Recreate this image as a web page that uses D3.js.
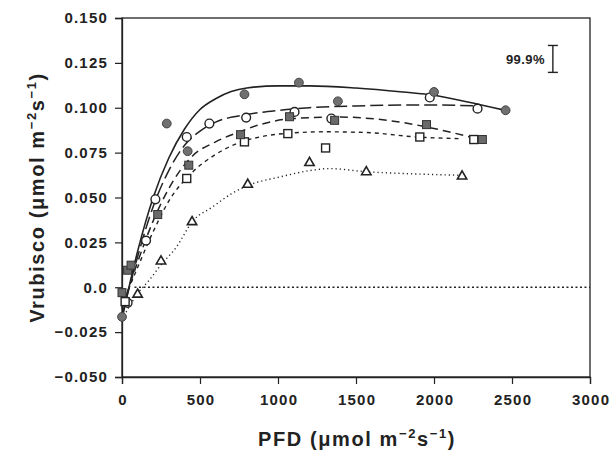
<!DOCTYPE html>
<html>
<head>
<meta charset="utf-8">
<script src="https://d3js.org/d3.v7.min.js"></script>
<style>
  body { margin: 0; background: #fff; }
  svg { display: block; }
  text { font-family: "Liberation Sans", Arial, sans-serif; fill: #222; }
</style>
</head>
<body>
<div id="chart"></div>
<script>
// x/y ticks
const xTicks = [0, 500, 1000, 1500, 2000, 2500, 3000];
const yTicks = [-0.05, -0.025, 0, 0.025, 0.05, 0.075, 0.1, 0.125, 0.15];
const yTickLabels = ["\u22120.050", "\u22120.025", "0.0", "0.025", "0.050", "0.075", "0.100", "0.125", "0.150"];

// measured points [PFD, Vrubisco]
const filledCircles = [[0, -0.0165], [287, 0.0912], [421, 0.0758], [785, 0.1075], [1134, 0.114], [1384, 0.1036], [2000, 0.1088], [2459, 0.0986]];
const openCircles = [[36, -0.0087], [154, 0.026], [214, 0.049], [415, 0.0837], [560, 0.0912], [796, 0.0945], [1106, 0.0977], [1342, 0.094], [1973, 0.1057], [2279, 0.0995]];
const filledSquares = [[0, -0.003], [36, 0.0095], [58, 0.0123], [229, 0.0405], [428, 0.068], [760, 0.085], [1074, 0.095], [1363, 0.093], [1952, 0.0906], [2310, 0.0823]];
const openSquares = [[20, -0.008], [415, 0.0606], [785, 0.081], [1063, 0.0856], [1305, 0.0776], [1909, 0.0837], [2255, 0.0823]];
const triangles = [[100, -0.004], [250, 0.0145], [449, 0.0364], [806, 0.0572], [1202, 0.0693], [1566, 0.0642], [2180, 0.0618]];

// fitted curves
const fitSolid = [[0, -0.018], [50, 0.002], [100, 0.02], [150, 0.036], [200, 0.05], [300, 0.072], [400, 0.088], [500, 0.099], [600, 0.105], [700, 0.109], [800, 0.111], [1000, 0.1122], [1200, 0.1122], [1500, 0.111], [1800, 0.1088], [2000, 0.107], [2200, 0.1035], [2460, 0.0985]];
const fitLongDash = [[0, -0.016], [100, 0.017], [200, 0.045], [300, 0.065], [400, 0.079], [500, 0.087], [600, 0.092], [800, 0.0962], [1000, 0.0985], [1200, 0.1], [1500, 0.101], [1800, 0.1015], [2000, 0.1015], [2300, 0.101]];
const fitMidDash = [[0, -0.012], [100, 0.014], [200, 0.037], [300, 0.055], [450, 0.073], [600, 0.081], [750, 0.0865], [900, 0.091], [1100, 0.094], [1400, 0.0948], [1700, 0.093], [1930, 0.0897], [2100, 0.0865], [2230, 0.0837]];
const fitShortDash = [[0, -0.01], [100, 0.011], [200, 0.031], [300, 0.048], [450, 0.064], [600, 0.074], [750, 0.0805], [900, 0.084], [1100, 0.086], [1300, 0.0866], [1566, 0.0862], [1890, 0.0837], [2170, 0.0828]];
const fitDotted = [[0, -0.018], [100, -0.0035], [175, 0.004], [250, 0.0125], [350, 0.0225], [450, 0.0365], [580, 0.0447], [700, 0.052], [810, 0.0568], [1010, 0.0614], [1220, 0.0652], [1330, 0.0661], [1560, 0.0644], [1820, 0.0633], [2170, 0.0624]];
const zeroLine = [[80, 0], [3000, 0]];

// error bar (99.9% LSD)
const errX = 2762, errLow = 0.1197, errHigh = 0.1347;

const width = 616, height = 454;
const margin = { top: 18, right: 26, bottom: 77, left: 122 };

const svg = d3.select("#chart").append("svg")
  .attr("width", width)
  .attr("height", height);

const x = d3.scaleLinear().domain([0, 3000]).range([margin.left, width - margin.right]);
const y = d3.scaleLinear().domain([-0.05, 0.15]).range([height - margin.bottom, margin.top]);

// frame
svg.append("rect")
  .attr("x", x(0)).attr("y", y(0.15))
  .attr("width", x(3000) - x(0)).attr("height", y(-0.05) - y(0.15))
  .attr("fill", "none").attr("stroke", "#222").attr("stroke-width", 1.3);

// axes
const xAxis = svg.append("g")
  .attr("transform", `translate(0,${y(-0.05)})`)
  .call(d3.axisBottom(x).tickValues(xTicks).tickSize(7).tickPadding(10).tickFormat(d3.format("d")));
const yAxis = svg.append("g")
  .attr("transform", `translate(${x(0)},0)`)
  .call(d3.axisLeft(y).tickValues(yTicks).tickSize(7).tickPadding(7).tickFormat((d, i) => yTickLabels[i]));

[xAxis, yAxis].forEach(a => {
  a.select(".domain").attr("stroke", "#222").attr("stroke-width", 1.3);
  a.selectAll(".tick line").attr("stroke", "#222").attr("stroke-width", 1.2);
  a.selectAll(".tick text")
    .attr("fill", "#222")
    .style("font-size", "15px")
    .style("font-weight", "bold")
    .style("letter-spacing", "1.2px");
});
// keep the x labels centred despite letter spacing
xAxis.selectAll(".tick text").attr("dx", "0.6px");

// axis titles
const sup = (t) => `<tspan dy="-8" font-size="13">${t}</tspan>`;
svg.append("text")
  .attr("x", 357).attr("y", 446)
  .attr("text-anchor", "middle")
  .style("font-size", "20px").style("font-weight", "bold").style("letter-spacing", "1.6px")
  .html(`PFD (\u03bcmol m${sup("\u22122")}<tspan dy="8">s</tspan>${sup("\u22121")}<tspan dy="8">)</tspan>`);

svg.append("text")
  .attr("transform", `translate(44,${(y(0.15) + y(-0.05)) / 2}) rotate(-90)`)
  .attr("text-anchor", "middle")
  .style("font-size", "20px").style("font-weight", "bold").style("letter-spacing", "1.6px")
  .html(`Vrubisco (\u03bcmol m${sup("\u22122")}<tspan dy="8">s</tspan>${sup("\u22121")}<tspan dy="8">)</tspan>`);

// curves
const line = d3.line().x(d => x(d[0])).y(d => y(d[1])).curve(d3.curveMonotoneX);
const curves = [
  { data: fitSolid, dash: null, w: 1.6 },
  { data: fitLongDash, dash: "13,5", w: 1.5 },
  { data: fitMidDash, dash: "8,5", w: 1.5 },
  { data: fitShortDash, dash: "4,4", w: 1.4 },
  { data: fitDotted, dash: "1.2,3", w: 1.4 },
  { data: zeroLine, dash: "2,2.5", w: 1.4 }
];
svg.append("g").selectAll("path")
  .data(curves)
  .join("path")
  .attr("d", d => line(d.data))
  .attr("fill", "none")
  .attr("stroke", "#222")
  .attr("stroke-width", d => d.w)
  .attr("stroke-dasharray", d => d.dash);

// markers
const pts = svg.append("g");
pts.selectAll(".oc").data(openCircles).join("circle")
  .attr("cx", d => x(d[0])).attr("cy", d => y(d[1])).attr("r", 4.4)
  .attr("fill", "#fff").attr("stroke", "#222").attr("stroke-width", 1.4);
pts.selectAll(".fc").data(filledCircles).join("circle")
  .attr("cx", d => x(d[0])).attr("cy", d => y(d[1])).attr("r", 4.4)
  .attr("fill", "#707070").attr("stroke", "#444").attr("stroke-width", 1);
pts.selectAll(".os").data(openSquares).join("rect")
  .attr("x", d => x(d[0]) - 4).attr("y", d => y(d[1]) - 4).attr("width", 8).attr("height", 8)
  .attr("fill", "#fff").attr("stroke", "#222").attr("stroke-width", 1.4);
pts.selectAll(".fs").data(filledSquares).join("rect")
  .attr("x", d => x(d[0]) - 4).attr("y", d => y(d[1]) - 4).attr("width", 8).attr("height", 8)
  .attr("fill", "#6a6a6a").attr("stroke", "#333").attr("stroke-width", 1);
pts.selectAll(".tr").data(triangles).join("path")
  .attr("d", d3.symbol(d3.symbolTriangle, 38))
  .attr("transform", d => `translate(${x(d[0])},${y(d[1])})`)
  .attr("fill", "#fff").attr("stroke", "#222").attr("stroke-width", 1.6);

// error bar
const eb = svg.append("g").attr("stroke", "#222").attr("stroke-width", 1.4);
eb.append("line").attr("x1", x(errX)).attr("x2", x(errX)).attr("y1", y(errLow)).attr("y2", y(errHigh));
eb.append("line").attr("x1", x(errX) - 5).attr("x2", x(errX) + 5).attr("y1", y(errLow)).attr("y2", y(errLow));
eb.append("line").attr("x1", x(errX) - 5).attr("x2", x(errX) + 5).attr("y1", y(errHigh)).attr("y2", y(errHigh));
svg.append("text")
  .attr("x", x(errX) - 8).attr("y", (y(errLow) + y(errHigh)) / 2 + 5)
  .attr("text-anchor", "end")
  .style("font-size", "13px").style("font-weight", "bold").style("letter-spacing", "0.4px")
  .text("99.9%");
</script>
</body>
</html>
